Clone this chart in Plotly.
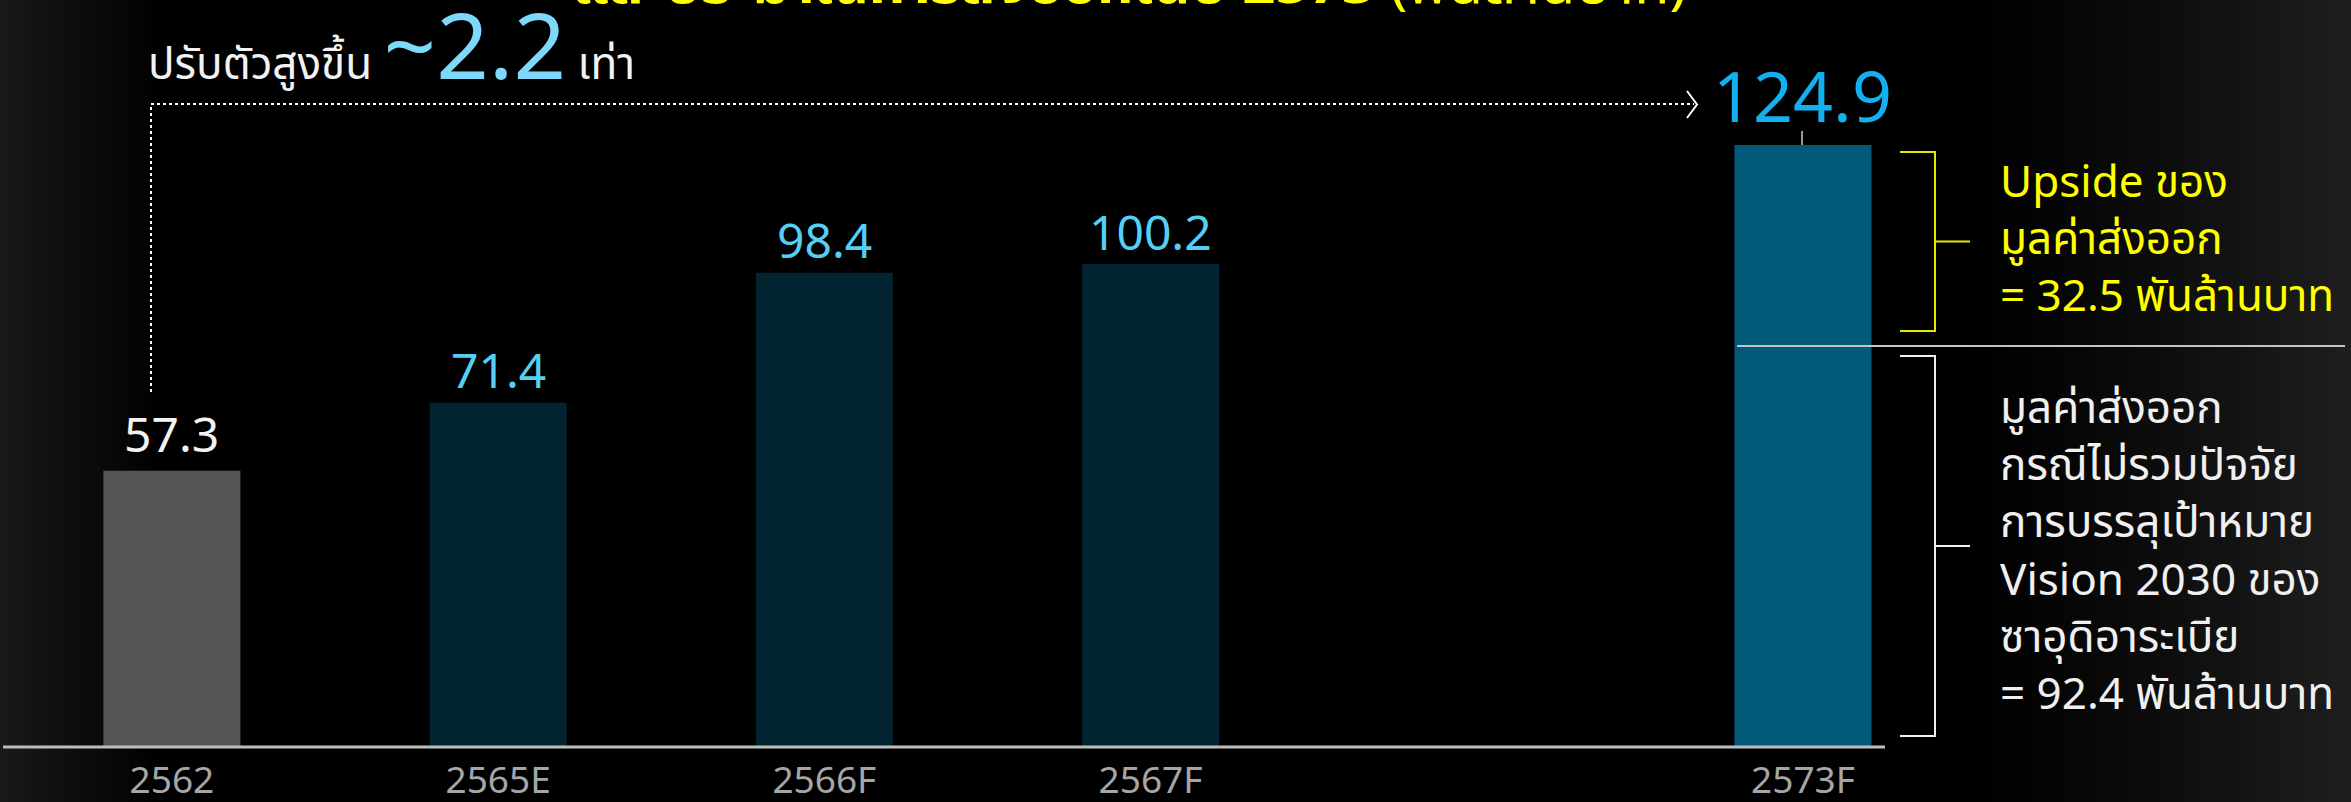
import plotly.graph_objects as go

W, H = 2351, 802
BASE = 747  # pixel row of the baseline

# data
categories = ["2562", "2565E", "2566F", "2567F", "2573F"]
values = [57.3, 71.4, 98.4, 100.2, 124.9]
value_labels = ["57.3", "71.4", "98.4", "100.2", "124.9"]
axis_order = ["2562", "2565E", "2566F", "2567F", " ", "2573F"]

growth_text = "ปรับตัวสูงขึ้น"
growth_value = "~2.2"
growth_unit = "เท่า"
title_bold = "และประมาณการส่งออกในปี 2573"
title_unit = "(พันล้านบาท)"
upside_lines = ["Upside ของ", "มูลค่าส่งออก", "= 32.5 พันล้านบาท"]
base_lines = ["มูลค่าส่งออก", "กรณีไม่รวมปัจจัย", "การบรรลุเป้าหมาย",
              "Vision 2030 ของ", "ซาอุดิอาระเบีย", "= 92.4 พันล้านบาท"]

# styles
bar_colors = ["#555555", "#022430", "#022430", "#022430", "#025a7b"]
label_colors = ["#f2f2f2", "#56cff5", "#56cff5", "#56cff5", "#12b0ee"]
label_sizes = [48, 48, 48, 48, 70]
label_shift = [33, 29, 29, 29, 44]

FONT = "Noto Sans Thai, Roboto, Noto Sans, sans-serif"


def px(x):
    return x / W


def py(y):
    return (BASE - y) / BASE


fig = go.Figure()

fig.add_trace(go.Bar(
    x=categories,
    y=values,
    marker=dict(color=bar_colors, line=dict(width=0)),
    width=0.42,
    hoverinfo="skip",
    showlegend=False
))

# value labels above bars (x as category index, "2562" would be read as a number)
for cat, val, txt, col, size, shift in zip(categories, values, value_labels,
                                            label_colors, label_sizes, label_shift):
    fig.add_annotation(x=axis_order.index(cat), y=val, text=txt, showarrow=False,
                       xanchor="center", yanchor="middle", yshift=shift,
                       font=dict(family=FONT, size=size, color=col))

shapes = []

# edge vignette
n = 16
for i in range(n):
    g = int(24 * (1 - i / n))
    shapes.append(dict(type="rect", xref="paper", yref="paper", layer="below",
                       x0=px(i * 10), x1=px(i * 10 + 10), y0=py(H), y1=py(0),
                       fillcolor=f"rgb({g},{g},{g})", line=dict(width=0)))
n = 40
for i in range(n):
    x0 = 1950 + i * 401 / n
    g = int(30 * ((i + 1) / n) ** 1.3)
    shapes.append(dict(type="rect", xref="paper", yref="paper", layer="below",
                       x0=px(x0), x1=px(x0 + 401 / n + 1), y0=py(H), y1=py(0),
                       fillcolor=f"rgb({g},{g},{g})", line=dict(width=0)))

# baseline
shapes.append(dict(type="line", xref="paper", yref="paper",
                   x0=px(3), x1=px(1885), y0=py(BASE), y1=py(BASE),
                   line=dict(color="#bdbdbd", width=3)))

# dotted growth arrow
shapes.append(dict(type="path", xref="paper", yref="paper",
                   path=f"M {px(151)},{py(392)} L {px(151)},{py(104)} L {px(1694)},{py(104)}",
                   line=dict(color="#ffffff", width=2, dash="dot")))
shapes.append(dict(type="path", xref="paper", yref="paper",
                   path=f"M {px(1687)},{py(91)} L {px(1697)},{py(104.5)} L {px(1687)},{py(118)}",
                   line=dict(color="#ffffff", width=2)))

# tick from big label to bar
shapes.append(dict(type="line", xref="paper", yref="paper",
                   x0=px(1802), x1=px(1802), y0=py(131), y1=py(145),
                   line=dict(color="#9a9a9a", width=2)))

# split line across last bar
shapes.append(dict(type="line", xref="paper", yref="paper",
                   x0=px(1737), x1=px(2345), y0=py(346), y1=py(346),
                   line=dict(color="#c4c4c4", width=2)))


def bracket(top, bottom, color):
    mid = (top + bottom) / 2
    return [
        dict(type="path", xref="paper", yref="paper",
             path=f"M {px(1900)},{py(top)} L {px(1935)},{py(top)} L {px(1935)},{py(bottom)} L {px(1900)},{py(bottom)}",
             line=dict(color=color, width=2)),
        dict(type="line", xref="paper", yref="paper",
             x0=px(1935), x1=px(1970), y0=py(mid), y1=py(mid),
             line=dict(color=color, width=2)),
    ]


shapes += bracket(152, 331, "#e6e600")
shapes += bracket(356, 736, "#f0f0f0")

fig.update_layout(shapes=shapes)

# headline, clipped at the top edge as in the source slide
fig.add_annotation(xref="paper", yref="paper", x=px(570), y=py(31),
                   xanchor="left", yanchor="bottom", showarrow=False,
                   text=f"<b>{title_bold}</b> {title_unit}",
                   font=dict(family=FONT, size=58, color="#ffff00"))

# growth note
fig.add_annotation(xref="paper", yref="paper", x=px(146), y=py(122),
                   xanchor="left", yanchor="bottom", showarrow=False,
                   text=(f"{growth_text} <span style='font-size:92px;color:#7ed8f8'>"
                         f"{growth_value}</span> {growth_unit}"),
                   font=dict(family=FONT, size=44, color="#f2f2f2"))

# side notes
fig.add_annotation(xref="paper", yref="paper", x=px(1998), y=py(240),
                   xanchor="left", yanchor="middle", showarrow=False, align="left",
                   text="<br>".join(upside_lines),
                   font=dict(family=FONT, size=44, color="#ffff00"))
fig.add_annotation(xref="paper", yref="paper", x=px(1998), y=py(552),
                   xanchor="left", yanchor="middle", showarrow=False, align="left",
                   text="<br>".join(base_lines),
                   font=dict(family=FONT, size=44, color="#f0f0f0"))

fig.update_layout(
    width=W, height=H,
    margin=dict(l=0, r=0, t=0, b=H - BASE),
    paper_bgcolor="#000000",
    plot_bgcolor="rgba(0,0,0,0)",
    bargap=0.58,
    xaxis=dict(type="category", categoryorder="array", categoryarray=axis_order,
               range=[-0.527, 6.68], showgrid=False, zeroline=False, showline=False,
               ticks="", automargin=False, ticklabelstandoff=8,
               tickfont=dict(family=FONT, size=37, color="#a6a6a6")),
    yaxis=dict(range=[0, BASE / 4.82], visible=False, fixedrange=True),
    showlegend=False
)

fig.write_html("out.html", config={"displayModeBar": False},
               post_script="document.body.style.margin='0';document.body.style.overflow='hidden';")
